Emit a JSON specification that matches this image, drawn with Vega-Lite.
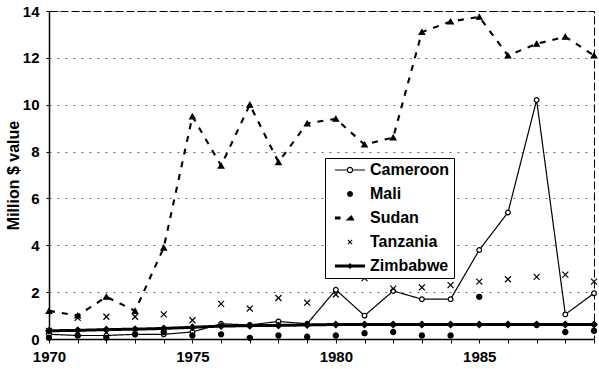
{
  "$schema": "https://vega.github.io/schema/vega-lite/v6.json",
  "width": 545,
  "height": 328,
  "autosize": "none",
  "padding": {"left": 49, "top": 11, "right": 5, "bottom": 30},
  "background": "white",
  "config": {
    "font": "Liberation Sans",
    "view": {"stroke": "black", "strokeWidth": 1, "strokeDash": [8, 3]}
  },
  "datasets": {
    "trade": [
      {"country": "Cameroon", "year": 1970, "value": 0.2},
      {"country": "Cameroon", "year": 1971, "value": 0.15},
      {"country": "Cameroon", "year": 1972, "value": 0.15},
      {"country": "Cameroon", "year": 1973, "value": 0.2},
      {"country": "Cameroon", "year": 1974, "value": 0.2},
      {"country": "Cameroon", "year": 1975, "value": 0.3},
      {"country": "Cameroon", "year": 1976, "value": 0.65},
      {"country": "Cameroon", "year": 1977, "value": 0.6},
      {"country": "Cameroon", "year": 1978, "value": 0.75},
      {"country": "Cameroon", "year": 1979, "value": 0.65},
      {"country": "Cameroon", "year": 1980, "value": 2.1},
      {"country": "Cameroon", "year": 1981, "value": 1.0},
      {"country": "Cameroon", "year": 1982, "value": 2.05},
      {"country": "Cameroon", "year": 1983, "value": 1.7},
      {"country": "Cameroon", "year": 1984, "value": 1.7},
      {"country": "Cameroon", "year": 1985, "value": 3.8},
      {"country": "Cameroon", "year": 1986, "value": 5.4},
      {"country": "Cameroon", "year": 1987, "value": 10.2},
      {"country": "Cameroon", "year": 1988, "value": 1.05},
      {"country": "Cameroon", "year": 1989, "value": 1.95},
      {"country": "Mali", "year": 1970, "value": 0.05},
      {"country": "Mali", "year": 1971, "value": 0.15},
      {"country": "Mali", "year": 1972, "value": 0.05},
      {"country": "Mali", "year": 1973, "value": 0.2},
      {"country": "Mali", "year": 1974, "value": 0.3},
      {"country": "Mali", "year": 1975, "value": 0.15},
      {"country": "Mali", "year": 1976, "value": 0.2},
      {"country": "Mali", "year": 1977, "value": 0.05},
      {"country": "Mali", "year": 1978, "value": 0.15},
      {"country": "Mali", "year": 1979, "value": 0.1},
      {"country": "Mali", "year": 1980, "value": 0.15},
      {"country": "Mali", "year": 1981, "value": 0.25},
      {"country": "Mali", "year": 1982, "value": 0.3},
      {"country": "Mali", "year": 1983, "value": 0.15},
      {"country": "Mali", "year": 1984, "value": 0.15},
      {"country": "Mali", "year": 1985, "value": 1.8},
      {"country": "Mali", "year": 1987, "value": 0.6},
      {"country": "Mali", "year": 1988, "value": 0.3},
      {"country": "Mali", "year": 1989, "value": 0.35},
      {"country": "Sudan", "year": 1970, "value": 1.2},
      {"country": "Sudan", "year": 1971, "value": 1.0},
      {"country": "Sudan", "year": 1972, "value": 1.8},
      {"country": "Sudan", "year": 1973, "value": 1.2},
      {"country": "Sudan", "year": 1974, "value": 3.9},
      {"country": "Sudan", "year": 1975, "value": 9.5},
      {"country": "Sudan", "year": 1976, "value": 7.4},
      {"country": "Sudan", "year": 1977, "value": 10.0},
      {"country": "Sudan", "year": 1978, "value": 7.55},
      {"country": "Sudan", "year": 1979, "value": 9.2},
      {"country": "Sudan", "year": 1980, "value": 9.4},
      {"country": "Sudan", "year": 1981, "value": 8.3},
      {"country": "Sudan", "year": 1982, "value": 8.6},
      {"country": "Sudan", "year": 1983, "value": 13.1},
      {"country": "Sudan", "year": 1984, "value": 13.55},
      {"country": "Sudan", "year": 1985, "value": 13.75},
      {"country": "Sudan", "year": 1986, "value": 12.1},
      {"country": "Sudan", "year": 1987, "value": 12.6},
      {"country": "Sudan", "year": 1988, "value": 12.9},
      {"country": "Sudan", "year": 1989, "value": 12.1},
      {"country": "Tanzania", "year": 1970, "value": 0.35},
      {"country": "Tanzania", "year": 1971, "value": 0.9},
      {"country": "Tanzania", "year": 1972, "value": 0.95},
      {"country": "Tanzania", "year": 1973, "value": 0.95},
      {"country": "Tanzania", "year": 1974, "value": 1.05},
      {"country": "Tanzania", "year": 1975, "value": 0.8},
      {"country": "Tanzania", "year": 1976, "value": 1.5},
      {"country": "Tanzania", "year": 1977, "value": 1.3},
      {"country": "Tanzania", "year": 1978, "value": 1.75},
      {"country": "Tanzania", "year": 1979, "value": 1.55},
      {"country": "Tanzania", "year": 1980, "value": 1.9},
      {"country": "Tanzania", "year": 1981, "value": 2.6},
      {"country": "Tanzania", "year": 1982, "value": 2.15},
      {"country": "Tanzania", "year": 1983, "value": 2.2},
      {"country": "Tanzania", "year": 1984, "value": 2.3},
      {"country": "Tanzania", "year": 1985, "value": 2.45},
      {"country": "Tanzania", "year": 1986, "value": 2.55},
      {"country": "Tanzania", "year": 1987, "value": 2.65},
      {"country": "Tanzania", "year": 1988, "value": 2.75},
      {"country": "Tanzania", "year": 1989, "value": 2.45},
      {"country": "Zimbabwe", "year": 1970, "value": 0.35},
      {"country": "Zimbabwe", "year": 1971, "value": 0.37},
      {"country": "Zimbabwe", "year": 1972, "value": 0.4},
      {"country": "Zimbabwe", "year": 1973, "value": 0.42},
      {"country": "Zimbabwe", "year": 1974, "value": 0.45},
      {"country": "Zimbabwe", "year": 1975, "value": 0.5},
      {"country": "Zimbabwe", "year": 1976, "value": 0.55},
      {"country": "Zimbabwe", "year": 1977, "value": 0.57},
      {"country": "Zimbabwe", "year": 1978, "value": 0.58},
      {"country": "Zimbabwe", "year": 1979, "value": 0.6},
      {"country": "Zimbabwe", "year": 1980, "value": 0.62},
      {"country": "Zimbabwe", "year": 1981, "value": 0.62},
      {"country": "Zimbabwe", "year": 1982, "value": 0.62},
      {"country": "Zimbabwe", "year": 1983, "value": 0.62},
      {"country": "Zimbabwe", "year": 1984, "value": 0.62},
      {"country": "Zimbabwe", "year": 1985, "value": 0.62},
      {"country": "Zimbabwe", "year": 1986, "value": 0.62},
      {"country": "Zimbabwe", "year": 1987, "value": 0.62},
      {"country": "Zimbabwe", "year": 1988, "value": 0.62},
      {"country": "Zimbabwe", "year": 1989, "value": 0.62}
    ]
  },
  "data": {"name": "trade"},
  "encoding": {
    "x": {
      "field": "year",
      "type": "quantitative",
      "scale": {"domain": [1970, 1989], "nice": false, "zero": false},
      "axis": {
        "title": null,
        "values": [1970,1971,1972,1973,1974,1975,1976,1977,1978,1979,1980,1981,1982,1983,1984,1985,1986,1987,1988,1989],
        "labelExpr": "datum.value % 5 === 0 ? datum.value : ''",
        "format": "d",
        "grid": false,
        "domainColor": "black",
        "domainWidth": 1.5,
        "tickColor": "black",
        "tickSize": 4,
        "labelFont": "Liberation Sans",
        "labelFontWeight": "bold",
        "labelFontSize": 15,
        "labelColor": "black",
        "labelPadding": 6,
        "labelFlush": false,
        "labelOverlap": false
      }
    },
    "y": {
      "field": "value",
      "type": "quantitative",
      "scale": {"domain": [0, 14], "nice": false},
      "axis": {
        "title": "Million $ value",
        "titleFont": "Liberation Sans",
        "titleFontSize": 16,
        "titleFontWeight": "bold",
        "titleColor": "black",
        "titlePadding": 1,
        "values": [0, 2, 4, 6, 8, 10, 12, 14],
        "grid": true,
        "gridColor": "black",
        "gridDash": [2, 6],
        "gridOpacity": 0.6,
        "domainColor": "black",
        "domainWidth": 1.5,
        "tickColor": "black",
        "tickSize": 3,
        "labelFont": "Liberation Sans",
        "labelFontWeight": "bold",
        "labelFontSize": 15,
        "labelColor": "black",
        "labelPadding": 7
      }
    }
  },
  "resolve": {"scale": {"shape": "independent", "size": "independent", "fill": "independent"}, "legend": {"shape": "independent"}},
  "layer": [
    {
      "transform": [{"filter": "datum.country === 'Cameroon' || datum.country === 'Sudan' || datum.country === 'Zimbabwe'"}],
      "mark": {"type": "line", "color": "black"},
      "encoding": {
        "detail": {"field": "country"},
        "strokeDash": {
          "field": "country",
          "scale": {"domain": ["Cameroon", "Sudan", "Zimbabwe"], "range": [[1, 0], [6, 7], [1, 0]]},
          "legend": null
        },
        "strokeWidth": {
          "field": "country",
          "type": "nominal",
          "scale": {"domain": ["Cameroon", "Sudan", "Zimbabwe"], "range": [1.2, 3, 3.5]},
          "legend": null
        }
      }
    },
    {
      "mark": {"type": "point", "strokeWidth": 1.2, "stroke": "black", "opacity": 1},
      "encoding": {
        "shape": {
          "field": "country",
          "scale": {
            "domain": ["Cameroon", "Mali", "Sudan", "Tanzania", "Zimbabwe"],
            "range": ["circle", "circle", "triangle-up", "M-1,-1L1,1M-1,1L1,-1", "diamond"]
          },
          "legend": null
        },
        "fill": {
          "field": "country",
          "scale": {
            "domain": ["Cameroon", "Mali", "Sudan", "Tanzania", "Zimbabwe"],
            "range": ["white", "black", "black", "transparent", "black"]
          },
          "legend": null
        },
        "size": {
          "field": "country",
          "type": "nominal",
          "scale": {
            "domain": ["Cameroon", "Mali", "Sudan", "Tanzania", "Zimbabwe"],
            "range": [22, 40, 35, 22, 20]
          },
          "legend": null
        }
      }
    },
    {
      "mark": {"type": "point", "filled": true, "color": "black", "strokeWidth": 0, "opacity": 0, "size": 100},
      "encoding": {
        "shape": {
          "field": "country",
          "title": null,
          "scale": {
            "domain": ["Cameroon", "Mali", "Sudan", "Tanzania", "Zimbabwe"],
            "range": [
              "M-3,-0.12H-0.65V0.12H-3Z M0.65,-0.12H3V0.12H0.65Z M0.65,0A0.65,0.65 0 1,1 -0.65,0A0.65,0.65 0 1,1 0.65,0Z M0.4,0A0.4,0.4 0 1,0 -0.4,0A0.4,0.4 0 1,0 0.4,0Z",
              "M0.6,0A0.6,0.6 0 1,1 -0.6,0A0.6,0.6 0 1,1 0.6,0Z",
              "M-3,-0.3H-1.9V0.3H-3Z M-0.9,0.5L0.3,-0.6L0.9,0.5Z",
              "M-0.5,-0.35L-0.35,-0.5L0.5,0.35L0.35,0.5Z M0.35,-0.5L0.5,-0.35L-0.35,0.5L-0.5,0.35Z",
              "M-3,-0.3H3V0.3H-3Z M0,-0.6L0.6,0L0,0.6L-0.6,0Z"
            ]
          },
          "legend": {
            "orient": "none",
            "legendX": 276,
            "legendY": 147,
            "title": null,
            "padding": 4,
            "rowPadding": 8,
            "symbolOffset": 13,
            "labelOffset": 12,
            "symbolSize": 100,
            "symbolFillColor": "black",
            "symbolStrokeColor": "black",
            "symbolStrokeWidth": 0,
            "symbolOpacity": 1,
            "labelFont": "Liberation Sans",
            "labelFontSize": 16,
            "labelFontWeight": "bold",
            "labelColor": "black",
            "fillColor": "white",
            "strokeColor": "black",
            "encode": {
              "legend": {"update": {"strokeDash": {"value": [5, 3]}, "strokeWidth": {"value": 1}}},
              "symbols": {"update": {"opacity": {"value": 1}, "fill": {"value": "black"}, "stroke": {"value": "black"}, "strokeWidth": {"value": 0}}}
            }
          }
        }
      }
    }
  ]
}
